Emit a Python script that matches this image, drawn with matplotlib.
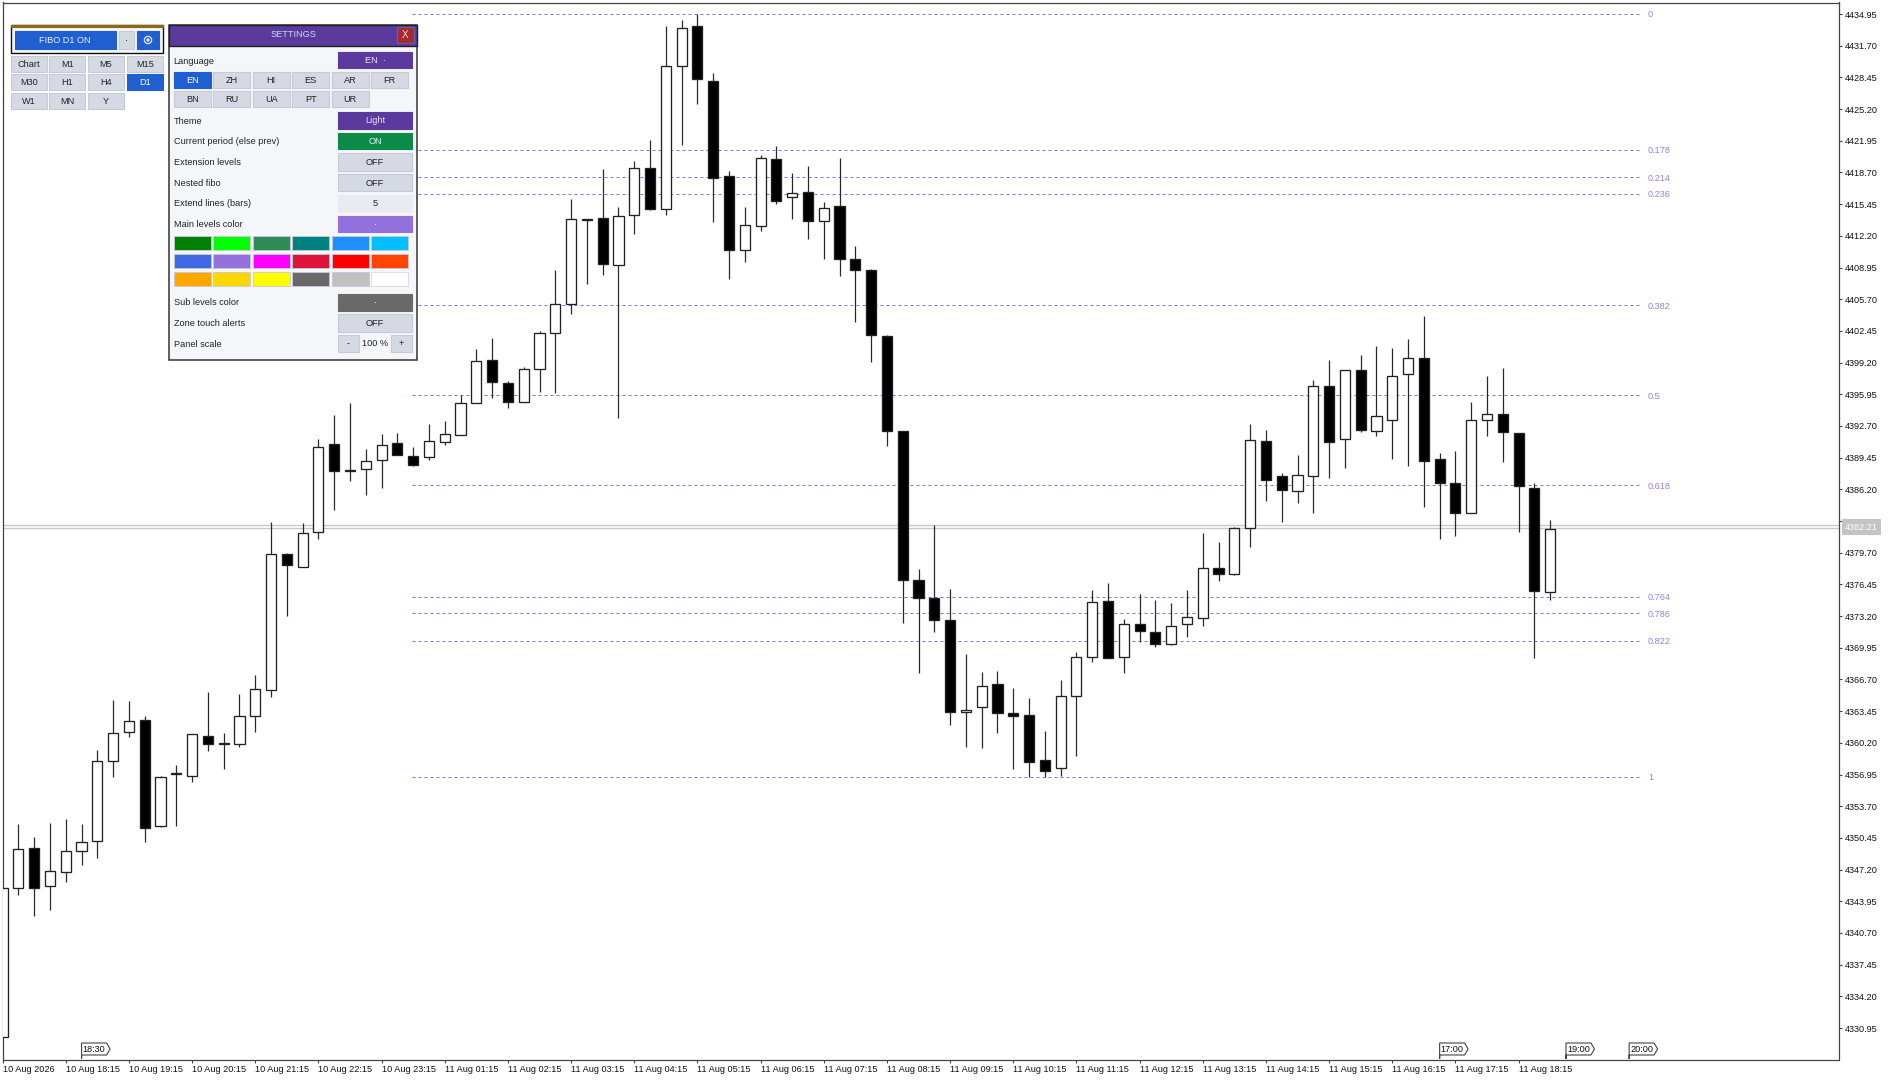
import matplotlib
matplotlib.use('Agg')
import matplotlib.pyplot as plt
from matplotlib.patches import Rectangle, Polygon

plt.rcParams['font.family'] = ['Liberation Sans', 'DejaVu Sans']

W, H = 1891, 1080

# candles, oldest first
highs = [4345.31, 4351.90, 4350.58, 4351.99, 4352.37, 4351.85, 4359.43, 4364.61, 4364.52, 4362.92,
         4356.84, 4357.97, 4361.08, 4365.41, 4361.18, 4365.23, 4367.11, 4382.84, 4379.68, 4382.74,
         4391.41, 4393.86, 4395.08, 4390.37, 4391.83, 4391.97, 4390.56, 4392.87, 4393.24, 4395.88,
         4400.57, 4401.77, 4397.27, 4398.70, 4402.47, 4408.66, 4415.95, 4413.90, 4419.06, 4415.11,
         4419.87, 4421.99, 4433.75, 4434.34, 4434.92, 4428.95, 4418.88, 4415.11, 4420.53, 4421.41,
         4418.66, 4419.36, 4415.62, 4420.16, 4411.15, 4408.84, 4402.03, 4392.21, 4378.06, 4382.51,
         4375.94, 4369.27, 4367.43, 4367.53, 4365.79, 4364.76, 4361.45, 4366.61, 4369.55, 4375.84,
         4376.56, 4372.90, 4375.43, 4374.85, 4374.51, 4375.84, 4381.72, 4380.80, 4382.30, 4392.87,
         4392.25, 4387.88, 4389.72, 4397.41, 4399.43, 4398.41, 4399.94, 4400.87, 4400.73, 4401.65,
         4403.98, 4389.89, 4390.13, 4395.16, 4397.79, 4398.61, 4392.01, 4386.88, 4383.02]
lows = [4330.00, 4344.60, 4342.48, 4343.09, 4345.92, 4347.71, 4348.41, 4356.66, 4360.75, 4350.06,
        4351.52, 4351.66, 4356.23, 4359.34, 4357.55, 4359.76, 4361.32, 4364.94, 4373.23, 4378.27,
        4381.14, 4384.06, 4387.08, 4385.57, 4386.37, 4389.71, 4388.58, 4389.19, 4390.75, 4391.78,
        4395.03, 4395.55, 4394.52, 4395.14, 4396.21, 4396.13, 4404.23, 4407.27, 4408.15, 4393.53,
        4412.43, 4414.85, 4414.34, 4421.55, 4425.77, 4413.57, 4407.78, 4409.54, 4412.73, 4415.47,
        4413.94, 4411.92, 4409.80, 4408.04, 4403.31, 4399.25, 4390.64, 4372.45, 4367.36, 4371.53,
        4361.99, 4359.77, 4359.67, 4361.21, 4357.55, 4356.66, 4356.66, 4356.83, 4358.88, 4368.45,
        4368.90, 4367.36, 4370.51, 4369.99, 4370.23, 4371.02, 4372.21, 4376.76, 4377.45, 4380.25,
        4384.97, 4382.85, 4384.76, 4383.77, 4387.40, 4388.42, 4392.05, 4391.67, 4389.35, 4388.63,
        4384.39, 4381.14, 4381.45, 4383.77, 4391.67, 4389.04, 4381.86, 4368.87, 4374.88]
opens = [4330.00, 4345.31, 4349.45, 4345.50, 4346.95, 4349.07, 4350.16, 4358.30, 4361.32, 4362.54,
         4351.66, 4357.03, 4356.84, 4360.85, 4360.09, 4360.09, 4362.97, 4365.65, 4379.54, 4378.27,
         4381.85, 4390.80, 4388.06, 4388.25, 4389.24, 4390.98, 4389.57, 4389.48, 4391.08, 4391.78,
         4395.03, 4399.50, 4397.09, 4395.14, 4398.59, 4402.21, 4405.18, 4413.86, 4414.01, 4409.21,
         4414.38, 4419.17, 4415.00, 4429.58, 4433.75, 4428.04, 4418.37, 4410.71, 4413.24, 4420.09,
         4416.17, 4416.72, 4413.72, 4415.22, 4409.87, 4408.66, 4401.96, 4392.21, 4376.93, 4375.02,
         4372.76, 4363.33, 4363.84, 4366.20, 4363.26, 4363.05, 4358.47, 4357.58, 4364.97, 4369.00,
         4374.71, 4369.00, 4372.39, 4371.57, 4370.30, 4372.35, 4372.97, 4378.13, 4377.51, 4382.20,
         4391.19, 4387.57, 4386.03, 4387.53, 4396.76, 4391.40, 4398.41, 4392.18, 4393.31, 4398.06,
         4399.70, 4389.28, 4386.85, 4383.77, 4393.31, 4393.93, 4392.01, 4386.34, 4375.70]
closes = [4345.31, 4349.36, 4345.31, 4347.05, 4349.07, 4350.06, 4358.30, 4361.22, 4362.45, 4351.48,
          4356.70, 4357.13, 4361.08, 4360.09, 4360.14, 4362.97, 4365.70, 4379.54, 4378.41, 4381.75,
          4390.51, 4388.06, 4388.16, 4389.15, 4390.75, 4389.71, 4388.72, 4391.17, 4391.83, 4395.03,
          4399.39, 4397.23, 4395.14, 4398.59, 4402.25, 4405.18, 4413.90, 4413.90, 4409.28, 4414.27,
          4419.14, 4414.96, 4429.58, 4433.53, 4428.33, 4418.18, 4410.71, 4413.35, 4420.16, 4415.77,
          4416.61, 4413.72, 4415.07, 4409.80, 4408.66, 4401.99, 4392.18, 4376.90, 4375.09, 4372.76,
          4363.33, 4363.53, 4366.06, 4363.22, 4362.92, 4358.27, 4357.34, 4364.97, 4369.00, 4374.68,
          4368.90, 4372.35, 4371.70, 4370.30, 4372.21, 4373.07, 4378.13, 4377.51, 4382.20, 4391.29,
          4387.12, 4386.10, 4387.64, 4396.76, 4391.09, 4398.41, 4392.29, 4393.72, 4397.86, 4399.70,
          4389.14, 4386.82, 4383.77, 4393.31, 4393.93, 4392.08, 4386.51, 4375.77, 4382.17]

fibo_names = ['0', '0.178', '0.214', '0.236', '0.382', '0.5', '0.618', '0.764', '0.786', '0.822', '1']
fibo_prices = [4434.95, 4421.03, 4418.21, 4416.49, 4405.07, 4395.84, 4386.61, 4375.19, 4373.47, 4370.65, 4356.73]

price_ticks = [4434.95, 4431.70, 4428.45, 4425.20, 4421.95, 4418.70, 4415.45, 4412.20, 4408.95, 4405.70, 4402.45,
               4399.20, 4395.95, 4392.70, 4389.45, 4386.20, 4382.95, 4379.70, 4376.45, 4373.20, 4369.95, 4366.70,
               4363.45, 4360.20, 4356.95, 4353.70, 4350.45, 4347.20, 4343.95, 4340.70, 4337.45, 4334.20, 4330.95]
bid = 4382.21
ask = 4382.57

time_bars = [0, 4, 8, 12, 16, 20, 24, 28, 32, 36, 40, 44, 48, 52, 56, 60, 64, 68, 72, 76, 80, 84, 88, 92, 96]
time_labels = ['10 Aug 2026', '10 Aug 18:15', '10 Aug 19:15', '10 Aug 20:15', '10 Aug 21:15', '10 Aug 22:15',
               '10 Aug 23:15', '11 Aug 01:15', '11 Aug 02:15', '11 Aug 03:15', '11 Aug 04:15', '11 Aug 05:15',
               '11 Aug 06:15', '11 Aug 07:15', '11 Aug 08:15', '11 Aug 09:15', '11 Aug 10:15', '11 Aug 11:15',
               '11 Aug 12:15', '11 Aug 13:15', '11 Aug 14:15', '11 Aug 15:15', '11 Aug 16:15', '11 Aug 17:15',
               '11 Aug 18:15']
flag_bars = [5, 91, 99, 103]
flag_labels = ['18:30', '17:00', '19:00', '20:00']

tf_labels = [['Chart', 'M1', 'M5', 'M15'], ['M30', 'H1', 'H4', 'D1'], ['W1', 'MN', 'Y']]
lang_labels = [['EN', 'ZH', 'HI', 'ES', 'AR', 'FR'], ['BN', 'RU', 'UA', 'PT', 'UR']]
swatches = [['#008000', '#00ff00', '#2e8b57', '#008080', '#1e90ff', '#00bfff'],
            ['#4169e1', '#9370db', '#ff00ff', '#dc143c', '#ff0000', '#ff4500'],
            ['#ffa500', '#ffd700', '#ffff00', '#696969', '#c0c0c0', '#ffffff']]

FS = 6.6
GRID = '#d5d9e3'
PURPLE = '#5b3a9e'
BLUE = '#1f5fcf'
AXIS = '#444444'
LEVEL = '#8f6ce8'

fig = plt.figure(figsize=(W / 100, H / 100), dpi=100)
fig.patch.set_facecolor('white')

# main chart, 2.5..1839 wide and 2.5..1059.5 down
ax = fig.add_axes([2.5 / W, 1 - 1059.5 / H, (1839 - 2.5) / W, (1059.5 - 2.5) / H])
ax.set_xlim(-0.006, 116.29)
ax.set_ylim(4327.72, 4436.13)
for s in ax.spines.values():
    s.set_color(AXIS)
    s.set_linewidth(0.9)

ax.axhline(ask, color='#c8c8c8', lw=1.0, zorder=1)
ax.axhline(bid, color='#c8c8c8', lw=1.0, zorder=1)

for name, price in zip(fibo_names, fibo_prices):
    ax.hlines(price, 25.95, 103.8, color=LEVEL, lw=0.72, linestyles=(0, (3, 3)), zorder=1)
    ax.annotate(name, (104.2, price), xytext=(0, -0.7), textcoords='offset points', color='#9a7ee6',
                fontsize=FS, va='center', ha='left')

bars = range(len(opens))
ax.vlines(bars, lows, highs, color='#2a2a2a', lw=0.9, zorder=2)
bottoms = [min(o, c) for o, c in zip(opens, closes)]
heights = [abs(o - c) for o, c in zip(opens, closes)]
faces = ['white' if c >= o else 'black' for o, c in zip(opens, closes)]
ax.bar(bars, heights, bottom=bottoms, width=0.64, color=faces, edgecolor='#222222', lw=0.95, zorder=3)

ax.yaxis.tick_right()
ax.set_yticks(price_ticks)
ax.set_yticklabels([f'{p:.2f}' for p in price_ticks])
ax.tick_params(axis='y', length=2.4, width=0.8, color=AXIS, pad=1.5, labelsize=FS, labelcolor='#111111')
ax.set_xticks(time_bars)
ax.set_xticklabels(time_labels, ha='left')
ax.tick_params(axis='x', length=2.4, width=0.8, color=AXIS, pad=1.5, labelsize=FS, labelcolor='#111111')

# overlay in screen pixels for the terminal chrome and the panels
ui = fig.add_axes([0, 0, 1, 1], zorder=5)
ui.set_xlim(0, W)
ui.set_ylim(H, 0)
ui.axis('off')


def box(x0, y0, x1, y1, face, edge=None, lw=0.8):
    ui.add_patch(Rectangle((x0, y0), x1 - x0, y1 - y0, facecolor=face, edgecolor=edge or face, lw=lw))


def button(x0, y0, x1, y1, label, face=GRID, color='#222222'):
    ui.add_patch(Rectangle((x0, y0), x1 - x0, y1 - y0, facecolor=face, edgecolor='#c6cad6' if face == GRID else face,
                           lw=0.8))
    ui.text((x0 + x1) / 2, (y0 + y1) / 2 + 0.4, label, color=color, fontsize=FS, ha='center', va='center')


# current price tag
box(1842, 519, 1880, 534, '#c4c4c4')
ui.text(1861, 527, f'{bid:.2f}', color='white', fontsize=FS, ha='center', va='center')

# period separator flags
for b, label in zip(flag_bars, flag_labels):
    x = ax.transData.transform((b, 0))[0]
    ui.add_patch(Polygon([(x, 1059), (x, 1043), (x + 25, 1043), (x + 28.5, 1049), (x + 25, 1055), (x, 1055)],
                         closed=True, facecolor='white', edgecolor=AXIS, lw=0.8))
    ui.text(x + 12.5, 1049.2, label, fontsize=FS, color='#111111', ha='center', va='center')

# small fibo panel
box(11, 25, 162.7, 52.7, '#f5f6fa', '#111111', 1.0)
box(11, 25, 162.7, 27, '#8b6914')
button(14.7, 31.3, 115.7, 48.7, 'FIBO D1 ON', BLUE, '#e8eefc')
button(119, 31.3, 134, 48.7, '·')
button(137, 31.3, 159, 48.7, '', BLUE)
ui.add_patch(plt.Circle((148, 40), 3.6, facecolor='none', edgecolor='#cfe0ff', lw=1.0))
ui.add_patch(plt.Circle((148, 40), 1.0, facecolor='#cfe0ff', edgecolor='#cfe0ff'))

tf_x = [11, 49.3, 88, 126.7]
tf_y = [55.7, 74.3, 93]
for row, labels in enumerate(tf_labels):
    for col, label in enumerate(labels):
        active = label == 'D1'
        button(tf_x[col], tf_y[row], tf_x[col] + 36, tf_y[row] + 16, label,
               BLUE if active else GRID, 'white' if active else '#222222')

# settings panel
box(169, 24.7, 417.3, 360, '#f5f6fa', '#333333', 1.1)
box(169, 24.7, 417.3, 46, PURPLE, '#222222', 1.0)
ui.text(293, 34.5, 'SETTINGS', color='#d8d4ee', fontsize=FS, ha='center', va='center')
box(397, 27, 414.3, 43.3, '#a52a2a', '#6a5aa8', 1.0)
ui.text(405.5, 34.5, 'X', color='#f0dada', fontsize=FS + 0.6, ha='center', va='center')

row_labels = ['Language', 'Theme', 'Current period (else prev)', 'Extension levels', 'Nested fibo',
              'Extend lines (bars)', 'Main levels color', 'Sub levels color', 'Zone touch alerts', 'Panel scale']
row_y = [61, 121, 141.7, 162.3, 183.3, 204, 224.7, 302.7, 323.3, 344.3]
for label, y in zip(row_labels, row_y):
    ui.text(173.5, y, label, color='#222222', fontsize=FS, ha='left', va='center')

button(338, 51.7, 412, 68.3, 'EN  ·', PURPLE, '#e6e2f4')
button(338, 112.3, 412, 128.7, 'Light', PURPLE, '#e6e2f4')
button(338, 133, 412, 149.3, 'ON', '#0b8a4a', '#e6f4ec')
button(338, 153.3, 412, 170.7, 'OFF')
button(338, 174, 412, 191.3, 'OFF')
button(338, 194.7, 412, 212, '5', '#e9ebf1')
button(338, 215.7, 412, 232.3, '·', '#9370db', 'white')
button(338, 294, 412, 310.7, '·', '#696969', 'white')
button(338, 314.3, 412, 331.7, 'OFF')
button(338, 335, 359, 352, '-')
ui.text(375, 343.7, '100 %', color='#222222', fontsize=FS, ha='center', va='center')
button(391, 335, 412, 352, '+')

lang_x = [174, 213.3, 252.7, 292.3, 331.7, 371]
lang_y = [72.3, 91]
for row, labels in enumerate(lang_labels):
    for col, label in enumerate(labels):
        active = label == 'EN'
        button(lang_x[col], lang_y[row], lang_x[col] + 37, lang_y[row] + 16, label,
               BLUE if active else GRID, 'white' if active else '#222222')

swatch_y = [236, 254, 271.6]
for row, colors in enumerate(swatches):
    for col, color in enumerate(colors):
        box(lang_x[col], swatch_y[row], lang_x[col] + 37, swatch_y[row] + 14.3, color,
            '#d5d9e3' if color == '#ffffff' else '#c6cad6', 0.6)

fig.savefig('out.png', dpi=100)
